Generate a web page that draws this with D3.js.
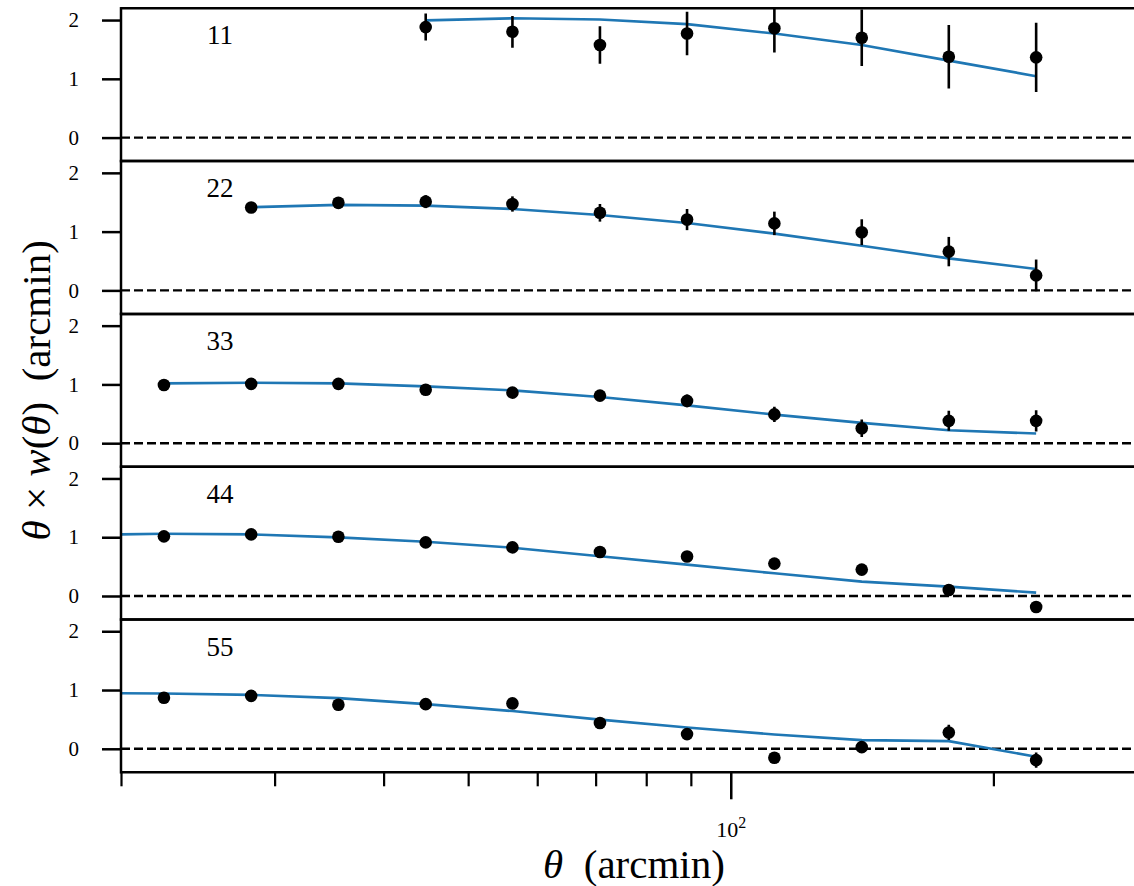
<!DOCTYPE html>
<html>
<head>
<meta charset="utf-8">
<script src="https://cdn.jsdelivr.net/npm/d3@7"></script>
<style>
  body { margin: 0; background: #fff; }
  svg { display: block; font-family: "Liberation Serif", "DejaVu Serif", serif; }
</style>
</head>
<body>
<script>
// bin pair labels, one panel each
var bins = ['11', '22', '33', '44', '55'];
// theta bin centres (arcmin) for the measured points
var theta = [22.4, 28.2, 35.5, 44.7, 56.2, 70.8, 89.1, 112.2, 141.3, 177.8, 223.9];
// model is evaluated on the same grid plus one bin to the left
var thetaModel = [17.8, 22.4, 28.2, 35.5, 44.7, 56.2, 70.8, 89.1, 112.2, 141.3, 177.8, 223.9];

// theta * w(theta), measured
var w11 = [null, null, null, 1.88, 1.80, 1.575, 1.77, 1.86, 1.70, 1.375, 1.365];
var w22 = [null, 1.41, 1.49, 1.51, 1.47, 1.32, 1.205, 1.14, 0.99, 0.66, 0.255];
var w33 = [0.99, 1.01, 1.01, 0.91, 0.86, 0.81, 0.72, 0.49, 0.255, 0.38, 0.38];
var w44 = [1.015, 1.048, 1.008, 0.912, 0.827, 0.749, 0.672, 0.551, 0.449, 0.102, -0.188];
var w55 = [0.868, 0.901, 0.749, 0.76, 0.772, 0.44, 0.25, -0.153, 0.028, 0.278, -0.193];

// 1-sigma errors
var e11 = [null, null, null, 0.23, 0.27, 0.32, 0.37, 0.41, 0.48, 0.54, 0.59];
var e22 = [null, 0.03, 0.04, 0.11, 0.13, 0.15, 0.18, 0.20, 0.22, 0.25, 0.27];
var e33 = [0.02, 0.03, 0.03, 0.04, 0.06, 0.09, 0.11, 0.13, 0.15, 0.17, 0.18];
var e44 = [0.02, 0.02, 0.03, 0.03, 0.04, 0.05, 0.06, 0.07, 0.08, 0.08, 0.09];
var e55 = [0.03, 0.03, 0.04, 0.05, 0.07, 0.08, 0.07, 0.09, 0.10, 0.13, 0.13];

// model curves (on thetaModel)
var m11 = [null, null, null, null, 1.995, 2.03, 2.01, 1.93, 1.77, 1.575, 1.31, 1.045];
var m22 = [null, null, 1.415, 1.455, 1.443, 1.386, 1.284, 1.148, 0.966, 0.761, 0.545, 0.364];
var m33 = [null, 1.017, 1.028, 1.017, 0.966, 0.898, 0.785, 0.644, 0.486, 0.345, 0.22, 0.164];
var m44 = [1.038, 1.059, 1.048, 0.997, 0.924, 0.822, 0.675, 0.533, 0.386, 0.244, 0.159, 0.057];
var m55 = [0.95, 0.941, 0.918, 0.862, 0.76, 0.642, 0.497, 0.362, 0.244, 0.147, 0.13, -0.136];

var yTicks = [0, 1, 2];
var xMinor = [20, 30, 40, 50, 60, 70, 80, 90, 200, 300];
var xMajor = [100];

var panels = [
	{label: bins[0], w: w11, e: e11, m: m11},
	{label: bins[1], w: w22, e: e22, m: m22},
	{label: bins[2], w: w33, e: e33, m: m33},
	{label: bins[3], w: w44, e: e44, m: m44},
	{label: bins[4], w: w55, e: e55, m: m55}
];

var width = 1134;
var height = 886;
var plotLeft = 121;
var plotRight = 1147;
var plotTop = 8.3;
var panelH = 152.8;
var blue = '#1f77b4';

var svg = d3.select('body')
	.append('svg')
	.attr('width', width)
	.attr('height', height);

var x = d3.scaleLog()
	.domain([20, 300])
	.range([plotLeft, plotRight]);

panels.forEach(function(p, i) {
	var y0 = plotTop + i * panelH;
	var y = d3.scaleLinear()
		.domain([-0.4, 2.2])
		.range([y0 + panelH, y0]);

	var g = svg.append('g');
	var clipId = 'clip' + i;
	g.append('clipPath')
		.attr('id', clipId)
		.append('rect')
		.attr('x', plotLeft)
		.attr('y', y0)
		.attr('width', plotRight - plotLeft)
		.attr('height', panelH);

	var plot = g.append('g').attr('clip-path', 'url(#' + clipId + ')');

	// zero line
	plot.append('line')
		.attr('x1', plotLeft)
		.attr('x2', plotRight)
		.attr('y1', y(0))
		.attr('y2', y(0))
		.attr('stroke', '#000')
		.attr('stroke-width', 2.4)
		.attr('stroke-dasharray', '9,4');

	// model
	var model = thetaModel.map(function(t, k) { return {t: t, v: p.m[k]}; })
		.filter(function(d) { return d.v !== null; });
	plot.append('path')
		.datum(model)
		.attr('fill', 'none')
		.attr('stroke', blue)
		.attr('stroke-width', 2.6)
		.attr('d', d3.line().x(function(d) { return x(d.t); }).y(function(d) { return y(d.v); }));

	var pts = theta.map(function(t, k) { return {t: t, v: p.w[k], e: p.e[k]}; })
		.filter(function(d) { return d.v !== null; });

	plot.selectAll('line.err')
		.data(pts)
		.enter()
		.append('line')
		.attr('class', 'err')
		.attr('x1', function(d) { return x(d.t); })
		.attr('x2', function(d) { return x(d.t); })
		.attr('y1', function(d) { return y(d.v - d.e); })
		.attr('y2', function(d) { return y(d.v + d.e); })
		.attr('stroke', '#000')
		.attr('stroke-width', 2.6);

	plot.selectAll('circle')
		.data(pts)
		.enter()
		.append('circle')
		.attr('cx', function(d) { return x(d.t); })
		.attr('cy', function(d) { return y(d.v); })
		.attr('r', 6.3)
		.attr('fill', '#000');

	// y axis
	var ax = g.append('g')
		.attr('transform', 'translate(' + plotLeft + ',0)')
		.call(d3.axisLeft(y).tickValues(yTicks).tickSize(19).tickPadding(23).tickFormat(d3.format('d')));
	ax.select('.domain').remove();
	ax.selectAll('.tick line').attr('stroke-width', 2.5);
	ax.selectAll('.tick text')
		.attr('font-family', '"Liberation Serif", serif')
		.attr('font-size', 21)
		.attr('fill', '#000');

	// spines
	g.append('line')
		.attr('x1', plotLeft).attr('x2', plotRight)
		.attr('y1', y0).attr('y2', y0)
		.attr('stroke', '#000').attr('stroke-width', 2.5);
	g.append('line')
		.attr('x1', plotLeft).attr('x2', plotRight)
		.attr('y1', y0 + panelH).attr('y2', y0 + panelH)
		.attr('stroke', '#000').attr('stroke-width', 2.5);
	g.append('line')
		.attr('x1', plotLeft).attr('x2', plotLeft)
		.attr('y1', y0 - 1.25).attr('y2', y0 + panelH + 1.25)
		.attr('stroke', '#000').attr('stroke-width', 2.5);

	// panel label
	g.append('text')
		.attr('x', 220)
		.attr('y', y0 + 36)
		.attr('text-anchor', 'middle')
		.attr('font-size', 27)
		.text(p.label);
});

// x axis at the bottom
var plotBottom = plotTop + 5 * panelH;
var xMinorAxis = svg.append('g')
	.attr('transform', 'translate(0,' + plotBottom + ')')
	.call(d3.axisBottom(x).tickValues(xMinor).tickSize(14).tickFormat(''));
xMinorAxis.select('.domain').remove();
xMinorAxis.selectAll('.tick line').attr('stroke-width', 2.2);

var xMajorAxis = svg.append('g')
	.attr('transform', 'translate(0,' + plotBottom + ')')
	.call(d3.axisBottom(x).tickValues(xMajor).tickSize(27).tickPadding(22).tickFormat(''));
xMajorAxis.select('.domain').remove();
xMajorAxis.selectAll('.tick line').attr('stroke-width', 2.5);
var lab = xMajorAxis.selectAll('.tick text')
	.attr('font-family', '"Liberation Serif", serif')
	.attr('font-size', 22)
	.attr('fill', '#000');
lab.append('tspan').text('10');
lab.append('tspan').attr('font-size', 16).attr('dy', -9).text('2');

// axis labels
var xl = svg.append('text')
	.attr('x', (plotLeft + plotRight) / 2)
	.attr('y', 878)
	.attr('text-anchor', 'middle')
	.attr('font-size', 41);
xl.append('tspan').attr('font-style', 'italic').text('θ');
xl.append('tspan').text('\u2002(arcmin)');

var yl = svg.append('text')
	.attr('transform', 'translate(50,' + (plotTop + 2.5 * panelH) + ') rotate(-90)')
	.attr('text-anchor', 'middle')
	.attr('font-size', 41);
yl.append('tspan').attr('font-style', 'italic').text('θ');
yl.append('tspan').text(' × ');
yl.append('tspan').attr('font-style', 'italic').text('w');
yl.append('tspan').text('(');
yl.append('tspan').attr('font-style', 'italic').text('θ');
yl.append('tspan').text(')\u2002(arcmin)');
</script>
</body>
</html>
